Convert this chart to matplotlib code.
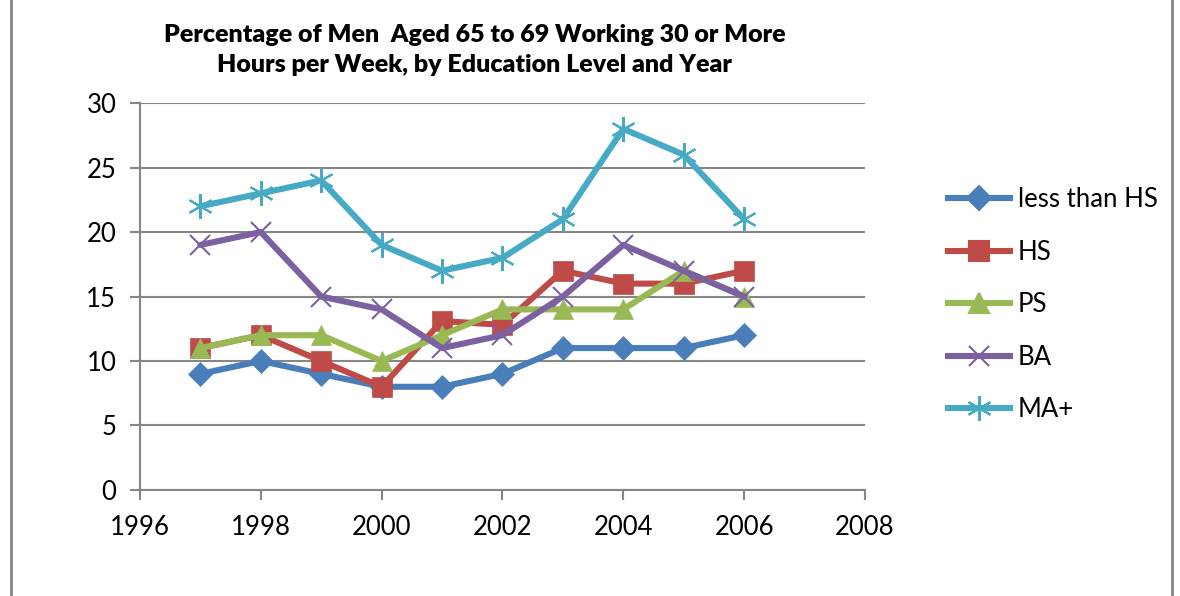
import matplotlib.pyplot as plt
from matplotlib.lines import Line2D

years = [1997, 1998, 1999, 2000, 2001, 2002, 2003, 2004, 2005, 2006]
less_hs = [9, 10, 9, 8, 8, 9, 11, 11, 11, 12]
hs = [11, 12, 10, 8, 13.1, 12.8, 17, 16, 16, 17]
ps = [11, 12, 12, 10, 12, 14, 14, 14, 17, 15]
ba = [19, 20, 15, 14, 11, 12, 15, 19, 17, 15]
ma = [22, 23, 24, 19, 17, 18, 21, 28, 26, 21]

labels = ["less than HS", "HS", "PS", "BA", "MA+"]
colors = ["#4A7EBB", "#BE4B48", "#98B954", "#7D60A0", "#46AAC5"]
markers = ["D", "s", "^", "x", (6, 2, 0)]
msizes = [12, 14, 14, 14, 18]

plt.rcParams['font.family'] = ['Lato', 'DejaVu Sans']

fig = plt.figure(figsize=(11.8, 5.96), dpi=100)
ax = fig.add_axes([0.1186, 0.178, 0.6144, 0.649])

series = [less_hs, hs, ps, ba, ma]
for vals, lab, c, m, ms in zip(series, labels, colors, markers, msizes):
    ax.plot(years, vals, color=c, lw=4.4, marker=m, markersize=ms,
            markeredgecolor=c, markeredgewidth=1.5 if m == "x" or isinstance(m, tuple) else 0.5,
            label=lab, solid_joinstyle='round', solid_capstyle='round')

ax.set_xlim(1996, 2008)
ax.set_ylim(0, 30)
ax.set_xticks(range(1996, 2009, 2))
ax.set_yticks(range(0, 31, 5))
ax.yaxis.grid(True, color="#868686", lw=1.5)
ax.set_axisbelow(True)
for s in ("top", "right"):
    ax.spines[s].set_visible(False)
for s in ("left", "bottom"):
    ax.spines[s].set_color("#868686")
    ax.spines[s].set_linewidth(1.5)
ax.tick_params(axis='both', colors="#868686", width=1.5, length=7, labelsize=18.5,
               labelcolor="black")
ax.tick_params(axis='x', pad=11)
ax.tick_params(axis='y', pad=10)

fig.text(0.402, 0.916, "Percentage of Men  Aged 65 to 69 Working 30 or More\nHours per Week, by Education Level and Year",
         ha="center", va="center", fontsize=18, fontweight="heavy", linespacing=1.45)

handles = [Line2D([0], [0], color=c, lw=4.4, marker=m, markersize=ms, markeredgecolor=c,
                  markeredgewidth=1.5)
           for c, m, ms in zip(colors, markers, msizes)]
fig.legend(handles, labels, loc="upper left", bbox_to_anchor=(0.795, 0.703),
           frameon=False, fontsize=18.5, handlelength=2.4, handletextpad=0.3,
           labelspacing=1.07, borderaxespad=0)

fig.add_artist(Line2D([0.009, 0.009], [0, 1], color="#868686", lw=2))
fig.add_artist(Line2D([0.993, 0.993], [0, 1], color="#868686", lw=2))

fig.savefig("out.png", dpi=100)
